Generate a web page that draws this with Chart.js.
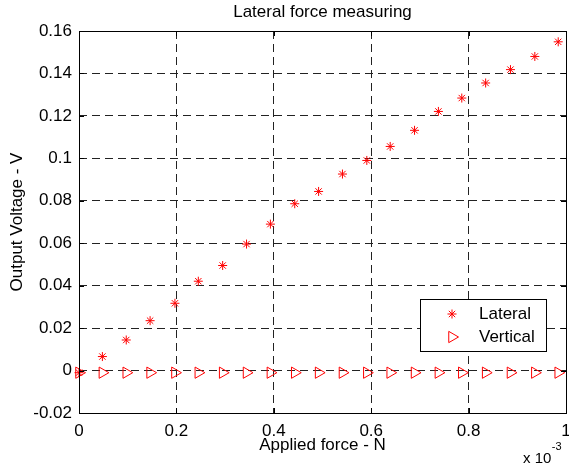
<!DOCTYPE html>
<html lang="en">
<head>
  <meta charset="UTF-8">
  <title>Lateral force measuring</title>
  <style>
    body { margin: 0; background: #fff; }
    #wrap { width: 569px; height: 468px; }
  </style>
</head>
<body>
  <div id="wrap"><canvas id="forceChart" width="569" height="468"></canvas></div>

  <script src="https://cdn.jsdelivr.net/npm/chart.js/dist/chart.umd.min.js"></script>
  <script>
    // applied force, in units of 1e-3 N
    const forceX = [0, 0.048, 0.097, 0.146, 0.197, 0.245, 0.295, 0.344, 0.393, 0.443, 0.492,
                    0.541, 0.591, 0.639, 0.689, 0.738, 0.786, 0.835, 0.886, 0.936, 0.984];
    // output voltage (V)
    const lateralV = [-0.001, 0.0066, 0.0144, 0.0235, 0.0317, 0.0421, 0.0495, 0.0596, 0.069, 0.0786, 0.0844,
                      0.0926, 0.099, 0.1056, 0.1132, 0.1221, 0.1284, 0.1355, 0.1418, 0.148, 0.1549];
    const verticalV = [-0.001, -0.001, -0.001, -0.001, -0.001, -0.001, -0.001, -0.001, -0.001, -0.001, -0.001,
                       -0.001, -0.001, -0.001, -0.001, -0.001, -0.001, -0.001, -0.001, -0.001, -0.001];
    const xTicks = [0, 0.2, 0.4, 0.6, 0.8, 1];
    const yTicks = [-0.02, 0, 0.02, 0.04, 0.06, 0.08, 0.1, 0.12, 0.14, 0.16];

    const FONT = "'Liberation Sans', Arial, Helvetica, sans-serif";
    const RED = '#ff0000';

    const toPoints = ys => forceX.map((x, i) => ({ x: x, y: ys[i] }));

    function markerFallback(ctx, style, x, y, r) {
      ctx.beginPath();
      if (style === 'star') {
        for (let k = 0; k < 4; k++) {
          const a = k * Math.PI / 4;
          ctx.moveTo(x - Math.cos(a) * r, y - Math.sin(a) * r);
          ctx.lineTo(x + Math.cos(a) * r, y + Math.sin(a) * r);
        }
      } else {
        ctx.moveTo(x + r, y);
        ctx.lineTo(x - r / 2, y - r * 0.866);
        ctx.lineTo(x - r / 2, y + r * 0.866);
        ctx.closePath();
      }
      ctx.stroke();
    }

    // MATLAB-like box, inner ticks, legend and exponent label
    const matlabBox = {
      id: 'matlabBox',
      afterDatasetsDraw(chart) {
        const ctx = chart.ctx;
        const a = chart.chartArea;
        const xs = chart.scales.x, ys = chart.scales.y;
        ctx.save();
        ctx.strokeStyle = '#000';
        ctx.lineWidth = 1;
        ctx.setLineDash([]);
        ctx.strokeRect(Math.round(a.left) + 0.5, Math.round(a.top) + 0.5,
                       Math.round(a.right - a.left), Math.round(a.bottom - a.top));
        // tick marks pointing in
        ctx.beginPath();
        xTicks.forEach(v => {
          const px = Math.round(xs.getPixelForValue(v)) + 0.5;
          ctx.moveTo(px, a.bottom); ctx.lineTo(px, a.bottom - 5);
          ctx.moveTo(px, a.top); ctx.lineTo(px, a.top + 5);
        });
        yTicks.forEach(v => {
          const py = Math.round(ys.getPixelForValue(v)) + 0.5;
          ctx.moveTo(a.left, py); ctx.lineTo(a.left + 5, py);
          ctx.moveTo(a.right, py); ctx.lineTo(a.right - 5, py);
        });
        ctx.stroke();

        // legend box
        const lx = a.right - 146, ly = a.top + 268, lw = 126, lh = 52;
        ctx.fillStyle = '#fff';
        ctx.fillRect(lx, ly, lw, lh);
        ctx.strokeRect(lx + 0.5, ly + 0.5, lw, lh);
        const items = [
          { text: 'Lateral', style: 'star', r: 4.5, rot: 0, dy: 15 },
          { text: 'Vertical', style: 'triangle', r: 6.5, rot: 90, dy: 38 }
        ];
        ctx.font = '17px ' + FONT;
        ctx.textBaseline = 'middle';
        ctx.textAlign = 'left';
        items.forEach(it => {
          const mx = lx + 32, my = ly + it.dy;
          ctx.strokeStyle = RED;
          ctx.fillStyle = 'rgba(0,0,0,0)';
          if (Chart.helpers && Chart.helpers.drawPoint) {
            Chart.helpers.drawPoint(ctx, { pointStyle: it.style, radius: it.r, rotation: it.rot, borderWidth: 1 }, mx, my);
          } else {
            markerFallback(ctx, it.style, mx, my, it.r);
          }
          ctx.fillStyle = '#000';
          ctx.fillText(it.text, lx + 59, my);
        });

        // exponent of x axis: "x 10" with superscript "-3"
        const base = 'x 10';
        const bx = a.right - 43;
        ctx.fillStyle = '#000';
        ctx.font = '15px ' + FONT;
        ctx.fillText(base, bx, 459);
        const w = ctx.measureText(base).width;
        ctx.font = '11px ' + FONT;
        ctx.fillText('-3', bx + w + 0.5, 447);
        ctx.restore();
      }
    };

    const gridStyle = {
      color: '#222',
      lineWidth: 1,
      drawTicks: false
    };

    const noMargins = s => {
      s.paddingLeft = 0; s.paddingRight = 0; s.paddingTop = 0; s.paddingBottom = 0;
    };

    new Chart(document.getElementById('forceChart'), {
      type: 'scatter',
      data: {
        datasets: [
          {
            label: 'Lateral',
            data: toPoints(lateralV),
            pointStyle: 'star',
            pointRadius: 4.5,
            pointBorderWidth: 1,
            borderColor: RED,
            backgroundColor: RED,
            clip: false
          },
          {
            label: 'Vertical',
            data: toPoints(verticalV),
            pointStyle: 'triangle',
            pointRotation: 90,
            pointRadius: 6.5,
            pointBorderWidth: 1,
            borderColor: RED,
            backgroundColor: 'rgba(0,0,0,0)',
            clip: false
          }
        ]
      },
      options: {
        responsive: false,
        animation: false,
        events: [],
        layout: { autoPadding: false, padding: { left: 0, right: 3, top: 0, bottom: 0 } },
        plugins: {
          legend: { display: false },
          tooltip: { enabled: false },
          title: {
            display: true,
            fullSize: false,
            text: 'Lateral force measuring',
            color: '#000',
            font: { family: FONT, size: 17, weight: 'normal' },
            padding: { top: 1.8, bottom: 8.8 }
          }
        },
        scales: {
          x: {
            type: 'linear',
            min: 0,
            max: 1,
            afterBuildTicks: s => { s.ticks = xTicks.map(v => ({ value: v })); },
            afterFit: s => { s.height = 55; noMargins(s); },
            grid: gridStyle,
            border: { display: false, dash: [8, 5] },
            ticks: {
              color: '#000',
              padding: 8,
              maxRotation: 0,
              font: { family: FONT, size: 17 },
              callback: v => String(Number(v.toFixed(2)))
            },
            title: {
              display: true,
              text: 'Applied force - N',
              color: '#000',
              font: { family: FONT, size: 17 },
              padding: { top: 0, bottom: 12 }
            }
          },
          y: {
            type: 'linear',
            min: -0.02,
            max: 0.16,
            afterBuildTicks: s => { s.ticks = yTicks.map(v => ({ value: v })); },
            afterFit: s => { s.width = 79; noMargins(s); },
            grid: gridStyle,
            border: { display: false, dash: [8, 5] },
            ticks: {
              color: '#000',
              padding: 7,
              font: { family: FONT, size: 17 },
              callback: v => String(Number(v.toFixed(2)))
            },
            title: {
              display: true,
              text: 'Output Voltage - V',
              color: '#000',
              font: { family: FONT, size: 17 },
              padding: { top: 6.8, bottom: 0 }
            }
          }
        }
      },
      plugins: [matlabBox]
    });
  </script>
</body>
</html>
